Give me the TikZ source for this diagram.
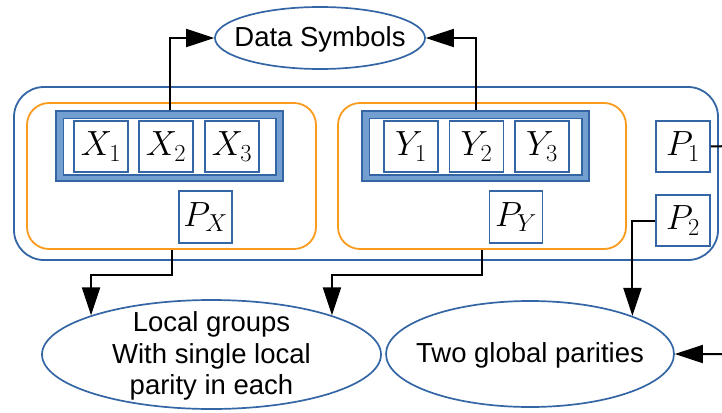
\documentclass[tikz,border=0pt]{standalone}
\usepackage{fix-cm}
\usepackage{fontspec}
\setmainfont{Liberation Sans}
\usetikzlibrary{arrows.meta,shapes.geometric,calc}

\definecolor{lineblue}{HTML}{3465A4}
\definecolor{skyblue}{HTML}{729FCF}
\definecolor{grouporange}{HTML}{FB9B1E}

\tikzset{
  symbox/.style={draw=lineblue, line width=1.6pt, fill=white, minimum width=54pt,
    minimum height=51pt, inner sep=0pt, font=\fontsize{35}{40}\selectfont},
  groupframe/.style={draw=lineblue, line width=1.5pt, fill=skyblue, minimum width=227pt,
    minimum height=70pt, inner sep=0pt},
  localgroup/.style={draw=grouporange, line width=1.8pt, rounded corners=22pt},
  oval/.style={ellipse, draw=lineblue, line width=1.7pt, inner sep=0pt},
  ovaltext/.style={label={[align=center, yshift=-1.5pt,
    font=\fontsize{27.5}{31.5}\selectfont]center:#1}},
  link/.style={draw=black, line width=2pt, -{Triangle[length=28pt,width=18pt]}},
}

\begin{document}
\begin{tikzpicture}[x=1pt,y=-1pt]
\clip (0,0) rectangle (722,412);

% outer container and the two local groups
\draw[lineblue, line width=1.8pt, rounded corners=30pt] (14,87) rectangle (718,260);
\node[localgroup, minimum width=289pt, minimum height=146pt] (lgx) at (171.5,176) {};
\node[localgroup, minimum width=288pt, minimum height=146pt] (lgy) at (482,176) {};

% data symbol frames
\node[groupframe] (xg) at (169.5,146) {};
\draw[lineblue, line width=1.5pt, fill=white]
  ([shift={(8,8)}]xg.north west) rectangle ([shift={(-8,-7)}]xg.south east);
\node[groupframe] (yg) at (475.5,146) {};
\draw[lineblue, line width=1.5pt, fill=white]
  ([shift={(8,8)}]yg.north west) rectangle ([shift={(-8,-7)}]yg.south east);

% symbols
\node[symbox] (x1) at (101,146.5) {$X_1$};
\node[symbox] (x2) at (166,146.5) {$X_2$};
\node[symbox] (x3) at (232,146.5) {$X_3$};
\node[symbox] (y1) at (411,146.5) {$Y_1$};
\node[symbox] (y2) at (476.5,146.5) {$Y_2$};
\node[symbox] (y3) at (542,146.5) {$Y_3$};
\node[symbox, minimum height=52pt, minimum width=53pt] (px) at (205.5,217) {$P_X$};
\node[symbox, minimum height=52pt, minimum width=53pt] (py) at (516,217) {$P_Y$};
\node[symbox] (p1) at (683,146.5) {$P_1$};
\node[symbox] (p2) at (683,220.5) {$P_2$};

% labels
\node[oval, minimum width=210pt, minimum height=62pt, ovaltext={Data Symbols}]
  (ds) at (320,38) {};
\node[oval, minimum width=339pt, minimum height=109pt,
  ovaltext={Local groups\\With single local\\parity in each}] (loc) at (211.5,354.5) {};
\node[oval, minimum width=288pt, minimum height=106pt, ovaltext={Two global parities}]
  (glob) at (530,354) {};

% connectors
\draw[link] (xg.north) |- (ds.west);
\draw[link] (yg.north) |- (ds.east);
\draw[link] (lgx.south) -- ++(0,25) -| (loc.north west);
\draw[link] (lgy.south) -- ++(0,25) -| (loc.north east);
\draw[link] (p2.west) -| (glob.north east);
\coordinate (bend) at (732,146);
\draw[link] (p1.east) -- (bend) |- (glob.east);
\end{tikzpicture}
\end{document}
